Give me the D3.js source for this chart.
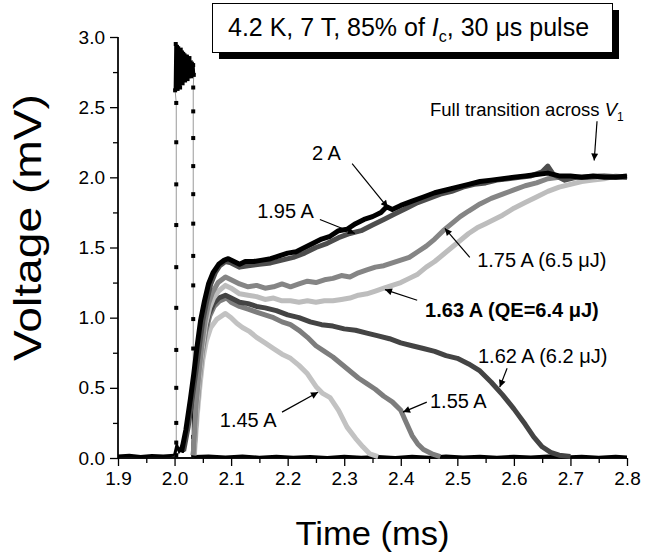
<!DOCTYPE html>
<html>
  <head>
    <meta charset="utf-8" />
    <script src="https://d3js.org/d3.v7.min.js"></script>
    <title>Voltage traces</title>
    <style>
      body {
        margin: 0px;
        background: #fff;
        font-family: 'Liberation Sans', Arial, sans-serif;
      }
      .tick text {
        font-size: 19px;
        fill: #000;
      }
      .domain, .tick line {
        stroke: #000;
        stroke-width: 1.3;
      }
      .label {
        font-size: 20px;
      }
    </style>
  </head>
  <body>
    <script>
      // traces, [time (ms), voltage (mV)]
      const pulseUp = [
        [2.003, 0.02], [2.003, 0.11], [2.003, 0.25], [2.003, 0.5], [2.003, 0.77],
        [2.003, 1.07], [2.003, 1.36], [2.003, 1.66], [2.003, 1.95], [2.003, 2.25],
        [2.003, 2.53],
      ];
      const pulseTop = [
        2.62, 2.95, 2.66, 2.93, 2.63, 2.92, 2.68, 2.9, 2.64, 2.91, 2.69, 2.89,
        2.67, 2.88, 2.7, 2.87, 2.69, 2.86, 2.71, 2.86, 2.7, 2.84, 2.72, 2.85,
        2.73, 2.82, 2.72, 2.81, 2.74, 2.8, 2.73,
      ];
      const pulseDown = [
        [2.033, 2.64], [2.033, 2.47], [2.033, 2.28], [2.033, 2.08], [2.033, 1.88],
        [2.033, 1.67], [2.033, 1.44], [2.033, 1.23], [2.033, 0.99], [2.033, 0.78],
        [2.033, 0.57], [2.033, 0.36], [2.033, 0.15], [2.033, 0.02],
      ];
      const baseline = [
        [1.9, 0.015], [1.92, 0.02], [1.94, 0.01], [1.96, 0.018], [1.98, 0.015], [2.0, 0.02],
      ];
      const baseline2 = [
        [2.035, 0.01], [2.06, 0.015], [2.09, 0.008], [2.12, 0.014], [2.15, 0.006],
        [2.18, 0.012], [2.21, 0.005], [2.24, 0.01], [2.27, 0.004], [2.3, 0.012],
        [2.33, 0.006], [2.36, 0.01], [2.39, 0.004], [2.42, 0.012], [2.45, 0.006],
        [2.48, 0.014], [2.51, 0.008], [2.54, 0.012], [2.57, 0.006], [2.6, 0.012],
        [2.63, 0.008], [2.66, 0.014], [2.69, 0.008], [2.72, 0.012], [2.75, 0.006],
        [2.78, 0.012], [2.8, 0.008],
      ];
      const foot = [
        [2.0, 0.02], [2.004, 0.09], [2.008, 0.05], [2.012, 0.08], [2.016, 0.04],
      ];
      const spike = [[2.034, 0.52], [2.034, 0.01]];
      const c145 = [
        [2.035, 0.02], [2.04, 0.3], [2.045, 0.52], [2.05, 0.7], [2.056, 0.83], [2.064, 0.93],
        [2.075, 0.99], [2.09, 1.03], [2.1, 1.0], [2.11, 0.96], [2.12, 0.93], [2.133, 0.9],
        [2.145, 0.86], [2.16, 0.82], [2.175, 0.78], [2.19, 0.74], [2.205, 0.71], [2.22, 0.66],
        [2.235, 0.6], [2.25, 0.51], [2.262, 0.46], [2.275, 0.43], [2.29, 0.34], [2.305, 0.22],
        [2.32, 0.14], [2.333, 0.08], [2.345, 0.03], [2.36, 0.01],
      ];
      const c155 = [
        [2.034, 0.02], [2.039, 0.33], [2.044, 0.56], [2.049, 0.75], [2.055, 0.9], [2.062, 1.01],
        [2.07, 1.08], [2.08, 1.12], [2.092, 1.14], [2.1, 1.11], [2.115, 1.08], [2.13, 1.06],
        [2.145, 1.04], [2.16, 1.02], [2.175, 1.0], [2.19, 0.97], [2.205, 0.95], [2.22, 0.91],
        [2.235, 0.86], [2.25, 0.8], [2.265, 0.76], [2.28, 0.72], [2.295, 0.67], [2.31, 0.62],
        [2.325, 0.57], [2.34, 0.53], [2.355, 0.49], [2.37, 0.44], [2.385, 0.4], [2.4, 0.34],
        [2.41, 0.25], [2.42, 0.16], [2.43, 0.1], [2.44, 0.06], [2.455, 0.03], [2.47, 0.01],
      ];
      const c162 = [
        [2.033, 0.02], [2.038, 0.35], [2.043, 0.57], [2.048, 0.76], [2.054, 0.92], [2.061, 1.03],
        [2.069, 1.1], [2.078, 1.14], [2.09, 1.16], [2.1, 1.14], [2.115, 1.11], [2.13, 1.1],
        [2.145, 1.08], [2.16, 1.07], [2.18, 1.05], [2.2, 1.02], [2.22, 1.0], [2.24, 0.97],
        [2.26, 0.95], [2.28, 0.94], [2.3, 0.92], [2.32, 0.91], [2.34, 0.89], [2.36, 0.87],
        [2.38, 0.85], [2.4, 0.82], [2.42, 0.8], [2.44, 0.78], [2.46, 0.76], [2.48, 0.73],
        [2.5, 0.71], [2.52, 0.67], [2.54, 0.62], [2.56, 0.54], [2.58, 0.45], [2.6, 0.35],
        [2.62, 0.24], [2.635, 0.15], [2.65, 0.08], [2.665, 0.04], [2.68, 0.02], [2.7, 0.01],
      ];
      const c163 = [
        [2.034, 0.02], [2.039, 0.36], [2.044, 0.58], [2.049, 0.78], [2.055, 0.95], [2.062, 1.07],
        [2.069, 1.14], [2.078, 1.19], [2.09, 1.23], [2.1, 1.21], [2.115, 1.17], [2.13, 1.16],
        [2.145, 1.15], [2.16, 1.13], [2.175, 1.14], [2.19, 1.12], [2.205, 1.12], [2.22, 1.11],
        [2.235, 1.12], [2.25, 1.11], [2.265, 1.12], [2.28, 1.12], [2.295, 1.13], [2.31, 1.14],
        [2.325, 1.16], [2.34, 1.17], [2.355, 1.19], [2.37, 1.21], [2.385, 1.23], [2.4, 1.25],
        [2.415, 1.28], [2.43, 1.31], [2.445, 1.36], [2.46, 1.4], [2.475, 1.45], [2.49, 1.5],
        [2.505, 1.55], [2.52, 1.6], [2.535, 1.64], [2.55, 1.67], [2.565, 1.7], [2.58, 1.73],
        [2.6, 1.78], [2.62, 1.82], [2.64, 1.86], [2.66, 1.9], [2.68, 1.93], [2.7, 1.95],
        [2.72, 1.97], [2.74, 1.98], [2.76, 1.99], [2.78, 2.01], [2.8, 2.0],
      ];
      const c175 = [
        [2.033, 0.02], [2.038, 0.38], [2.043, 0.6], [2.048, 0.8], [2.054, 0.98], [2.06, 1.1],
        [2.067, 1.18], [2.077, 1.25], [2.09, 1.29], [2.1, 1.27], [2.115, 1.24], [2.13, 1.22],
        [2.145, 1.23], [2.16, 1.21], [2.175, 1.22], [2.19, 1.24], [2.205, 1.22], [2.22, 1.24],
        [2.235, 1.26], [2.25, 1.25], [2.265, 1.27], [2.28, 1.28], [2.295, 1.3], [2.31, 1.29],
        [2.325, 1.32], [2.34, 1.34], [2.355, 1.36], [2.37, 1.37], [2.385, 1.39], [2.4, 1.41],
        [2.415, 1.43], [2.43, 1.47], [2.445, 1.51], [2.46, 1.56], [2.475, 1.62], [2.49, 1.67],
        [2.505, 1.72], [2.52, 1.76], [2.54, 1.81], [2.56, 1.85], [2.58, 1.88], [2.6, 1.91],
        [2.62, 1.94], [2.64, 1.96], [2.66, 1.99], [2.68, 2.0], [2.7, 2.0], [2.72, 2.0],
        [2.75, 2.01], [2.78, 2.0], [2.8, 2.0],
      ];
      const c195 = [
        [2.016, 0.05], [2.024, 0.22], [2.032, 0.45], [2.038, 0.62], [2.044, 0.8], [2.05, 0.98],
        [2.057, 1.12], [2.064, 1.24], [2.072, 1.32], [2.08, 1.37], [2.09, 1.4], [2.1, 1.39],
        [2.115, 1.36], [2.13, 1.37], [2.15, 1.38], [2.17, 1.39], [2.19, 1.41], [2.21, 1.43],
        [2.23, 1.46], [2.25, 1.5], [2.27, 1.53], [2.29, 1.57], [2.31, 1.6], [2.33, 1.62],
        [2.35, 1.66], [2.37, 1.7], [2.39, 1.74], [2.41, 1.78], [2.43, 1.82], [2.45, 1.85],
        [2.47, 1.88], [2.49, 1.9], [2.51, 1.93], [2.53, 1.95], [2.55, 1.96], [2.57, 1.98],
        [2.59, 1.99], [2.61, 2.0], [2.63, 2.01], [2.65, 2.04], [2.66, 2.08], [2.67, 2.02],
        [2.69, 1.98], [2.71, 2.0], [2.73, 2.0], [2.76, 2.01], [2.8, 2.0],
      ];
      const c200 = [
        [2.012, 0.04], [2.02, 0.2], [2.028, 0.42], [2.034, 0.6], [2.04, 0.8], [2.046, 0.98],
        [2.053, 1.12], [2.06, 1.24], [2.068, 1.32], [2.078, 1.38], [2.088, 1.41], [2.095, 1.42],
        [2.105, 1.4], [2.115, 1.38], [2.125, 1.4], [2.14, 1.4], [2.155, 1.41], [2.17, 1.42],
        [2.185, 1.44], [2.2, 1.46], [2.215, 1.47], [2.23, 1.5], [2.245, 1.53], [2.26, 1.56],
        [2.275, 1.58], [2.29, 1.62], [2.305, 1.63], [2.32, 1.67], [2.335, 1.7], [2.35, 1.72],
        [2.365, 1.75], [2.375, 1.79], [2.385, 1.77], [2.4, 1.8], [2.42, 1.83], [2.44, 1.86],
        [2.46, 1.89], [2.48, 1.91], [2.5, 1.93], [2.52, 1.95], [2.54, 1.97], [2.56, 1.98],
        [2.58, 1.99], [2.6, 2.0], [2.62, 2.01], [2.64, 2.02], [2.66, 2.03], [2.68, 2.01],
        [2.7, 2.01], [2.72, 2.0], [2.74, 2.01], [2.76, 2.0], [2.78, 2.0], [2.8, 2.01],
      ];

      const xTicks = [1.9, 2.0, 2.1, 2.2, 2.3, 2.4, 2.5, 2.6, 2.7, 2.8];
      const yTicks = [0, 0.5, 1.0, 1.5, 2.0, 2.5, 3.0];

      // label text, anchor (t, V), arrow tail and tip (t, V)
      const notes = [
        { text: '2 A', at: [2.243, 2.12], from: [2.314, 2.098], to: [2.377, 1.785] },
        { text: '1.95 A', at: [2.146, 1.707], from: [2.257, 1.7], to: [2.319, 1.6] },
        { text: '1.75 A (6.5 \u03bcJ)', at: [2.535, 1.358], from: [2.522, 1.43], to: [2.478, 1.636] },
        { text: '1.63 A (QE=6.4 \u03bcJ)', at: [2.443, 1.003], from: [2.429, 1.124], to: [2.372, 1.2], bold: true },
        { text: '1.62 A (6.2 \u03bcJ)', at: [2.5365, 0.676], from: [2.588, 0.64], to: [2.575, 0.505] },
        { text: '1.55 A', at: [2.4516, 0.356], from: [2.446, 0.398], to: [2.404, 0.327] },
        { text: '1.45 A', at: [2.08, 0.22], from: [2.19, 0.327], to: [2.2536, 0.469] },
      ];

      const width = 653;
      const height = 557;
      const svg = d3.select('body').append('svg')
        .attr('width', width)
        .attr('height', height);

      const x = d3.scaleLinear().domain([1.9, 2.8]).range([118, 627]);
      const y = d3.scaleLinear().domain([0, 3]).range([458, 37]);

      const line = d3.line().x((d) => x(d[0])).y((d) => y(d[1]));

      svg.append('defs').append('marker')
        .attr('id', 'arrow')
        .attr('viewBox', '0 0 10 10')
        .attr('refX', 10).attr('refY', 5)
        .attr('markerWidth', 9).attr('markerHeight', 7)
        .attr('markerUnits', 'userSpaceOnUse')
        .attr('orient', 'auto')
        .append('path')
        .attr('d', 'M0,0L10,5L0,10z')
        .attr('fill', '#000');

      // axes
      const xAxisG = svg.append('g').attr('transform', `translate(0,${y(0)})`);
      xAxisG.call(d3.axisBottom(x).tickValues(d3.range(1.95, 2.8, 0.1)).tickSize(5).tickFormat(''));
      xAxisG.append('g').call(d3.axisBottom(x).tickValues(xTicks).tickSize(8).tickSizeOuter(0)
        .tickPadding(6).tickFormat(d3.format('.1f')));
      xAxisG.selectAll('.domain').attr('d', `M${x(1.9)},0H${x(2.8)}`);

      const yAxisG = svg.append('g').attr('transform', `translate(${x(1.9)},0)`);
      yAxisG.call(d3.axisLeft(y).tickValues(d3.range(0.25, 3, 0.5)).tickSize(5).tickFormat(''));
      yAxisG.append('g').call(d3.axisLeft(y).tickValues(yTicks).tickSize(8).tickSizeOuter(0)
        .tickPadding(5).tickFormat(d3.format('.1f')));
      yAxisG.selectAll('.domain').attr('d', `M0,${y(0)}V${y(3)}`);

      // pulse (dotted with square markers)
      const pulseBlob = pulseTop.map((v, i) => [2.001 + i * 0.0011, v]);
      const pulse = pulseUp.concat(pulseBlob).concat(pulseDown);
      svg.append('path')
        .attr('d', line(pulse))
        .attr('fill', 'none')
        .attr('stroke', '#999')
        .attr('stroke-width', 1);
      svg.append('path')
        .attr('d', line(pulseBlob))
        .attr('fill', 'none')
        .attr('stroke', '#000')
        .attr('stroke-width', 3);
      svg.append('g').selectAll('rect').data(pulse).join('rect')
        .attr('x', (d) => x(d[0]) - 2)
        .attr('y', (d) => y(d[1]) - 2)
        .attr('width', 4)
        .attr('height', 4)
        .attr('fill', '#000');

      const traces = [
        { data: c145, color: '#c2c2c2' },
        { data: c155, color: '#7d7d7d' },
        { data: c162, color: '#444444' },
        { data: c163, color: '#bdbdbd' },
        { data: c175, color: '#858585' },
        { data: c195, color: '#4d4d4d' },
        { data: c200, color: '#000000' },
      ];
      [baseline, baseline2, foot].forEach((b) => {
        svg.append('path').attr('d', line(b)).attr('fill', 'none')
          .attr('stroke', '#000').attr('stroke-width', 3);
      });
      svg.append('path').attr('d', line(spike)).attr('fill', 'none')
        .attr('stroke', '#000').attr('stroke-width', 4);
      svg.append('g').selectAll('path').data(traces).join('path')
        .attr('d', (d) => line(d.data))
        .attr('fill', 'none')
        .attr('stroke', (d) => d.color)
        .attr('stroke-width', 5)
        .attr('stroke-linejoin', 'round');

      // annotations
      const noteG = svg.append('g');
      noteG.selectAll('line').data(notes).join('line')
        .attr('x1', (d) => x(d.from[0])).attr('y1', (d) => y(d.from[1]))
        .attr('x2', (d) => x(d.to[0])).attr('y2', (d) => y(d.to[1]))
        .attr('stroke', '#000').attr('stroke-width', 1.2)
        .attr('marker-end', 'url(#arrow)');
      noteG.selectAll('text').data(notes).join('text')
        .attr('class', 'label')
        .attr('x', (d) => x(d.at[0])).attr('y', (d) => y(d.at[1]))
        .attr('font-weight', (d) => (d.bold ? 'bold' : 'normal'))
        .text((d) => d.text);

      const full = svg.append('text')
        .style('font-size', '18.5px')
        .attr('x', x(2.4516)).attr('y', y(2.44));
      full.append('tspan').text('Full transition across ');
      full.append('tspan').attr('font-style', 'italic').text('V');
      full.append('tspan').attr('font-size', 12).attr('dy', 5).text('1');
      svg.append('line')
        .attr('x1', x(2.747)).attr('y1', y(2.4))
        .attr('x2', x(2.742)).attr('y2', y(2.12))
        .attr('stroke', '#000').attr('stroke-width', 1.2)
        .attr('marker-end', 'url(#arrow)');

      // title box
      svg.append('rect').attr('x', 219).attr('y', 10).attr('width', 400).attr('height', 49).attr('fill', '#000');
      svg.append('rect').attr('x', 212.5).attr('y', 3.5).attr('width', 400).attr('height', 49)
        .attr('fill', '#fff').attr('stroke', '#000').attr('stroke-width', 1);
      const title = svg.append('text').attr('x', 228).attr('y', 36).attr('font-size', 25);
      title.append('tspan').text('4.2 K, 7 T, 85% of ');
      title.append('tspan').attr('font-style', 'italic').text('I');
      title.append('tspan').attr('font-size', 16).attr('dy', 6).text('c');
      title.append('tspan').attr('dy', -6).text(', 30 \u03bcs pulse');

      // axis titles
      svg.append('text')
        .attr('x', x(2.35)).attr('y', 545)
        .attr('text-anchor', 'middle')
        .attr('font-size', 34)
        .attr('textLength', 154)
        .attr('lengthAdjust', 'spacingAndGlyphs')
        .text('Time (ms)');
      svg.append('text')
        .attr('transform', `translate(41,${(y(0) + y(3)) / 2 - 20}) rotate(-90)`)
        .attr('text-anchor', 'middle')
        .attr('font-size', 39)
        .attr('textLength', 267)
        .attr('lengthAdjust', 'spacingAndGlyphs')
        .text('Voltage (mV)');
    </script>
  </body>
</html>
